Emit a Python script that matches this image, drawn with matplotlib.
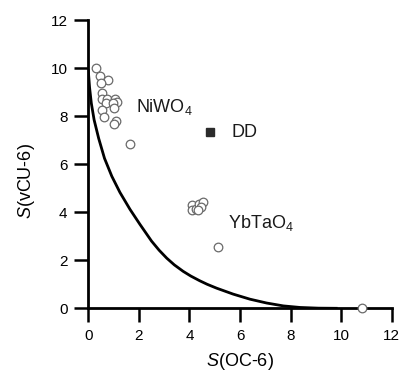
import matplotlib
matplotlib.use("Agg")
import matplotlib.pyplot as plt

plt.rcParams['font.family'] = ['Liberation Sans', 'DejaVu Sans']
plt.rcParams['mathtext.fontset'] = 'custom'
plt.rcParams['mathtext.rm'] = 'Liberation Sans'
plt.rcParams['mathtext.it'] = 'Liberation Sans:italic'

# minimal distortion path OC-6 <-> vCU-6
path_x = [0.0, 0.05, 0.12, 0.23, 0.41, 0.64, 0.93, 1.25, 1.65, 2.04, 2.50,
          2.80, 3.10, 3.40, 3.75, 4.05, 4.40, 4.70, 5.07, 5.73, 6.39, 7.05,
          7.71, 8.37, 9.10, 9.80]
path_y = [9.90, 9.20, 8.54, 7.85, 7.08, 6.25, 5.50, 4.83, 4.12, 3.50, 2.80,
          2.42, 2.09, 1.81, 1.54, 1.345, 1.15, 1.00, 0.84, 0.59, 0.38, 0.22,
          0.10, 0.035, 0.006, 0.0]

# NiWO4-type structures
niwo4_x = [0.29, 0.46, 0.79, 0.49, 0.53, 0.55, 0.75, 0.70, 1.06, 1.12, 0.99,
           1.02, 0.53, 0.62, 1.09, 1.03, 1.65]
niwo4_y = [10.0, 9.68, 9.51, 9.37, 8.98, 8.71, 8.73, 8.54, 8.71, 8.61, 8.57,
           8.33, 8.26, 7.98, 7.82, 7.68, 6.85]

# YbTaO4-type structures
ybtao4_x = [4.09, 4.09, 4.26, 4.39, 4.55, 4.44, 4.35, 5.14, 10.83]
ybtao4_y = [4.30, 4.10, 4.12, 4.35, 4.44, 4.21, 4.10, 2.57, 0.0]

dd_x, dd_y = [4.81], [7.33]

fig = plt.figure(figsize=(4.01, 3.71), dpi=100)
ax = fig.add_axes([0.2202, 0.169, 0.757, 0.7763])

ax.plot(path_x, path_y, color='black', lw=2.0, solid_joinstyle='round', zorder=2)
ax.plot(niwo4_x, niwo4_y, 'o', ms=6.2, mfc='white', mec='#6a6a6a', mew=0.9,
        clip_on=False, zorder=3)
ax.plot(ybtao4_x, ybtao4_y, 'o', ms=6.2, mfc='white', mec='#6a6a6a', mew=0.9,
        clip_on=False, zorder=3)
ax.plot(dd_x, dd_y, 's', ms=5.5, color='#2b2b2b', clip_on=False, zorder=3)

ax.text(1.89, 8.19, 'NiWO$_4$', fontsize=13, color='#1a1a1a')
ax.text(5.67, 7.12, 'DD', fontsize=13, color='#1a1a1a')
ax.text(5.52, 3.35, 'YbTaO$_4$', fontsize=13, color='#1a1a1a')

ax.set_xlim(0, 12)
ax.set_ylim(0, 12)
ax.set_xticks(range(0, 13, 2))
ax.set_yticks(range(0, 13, 2))
for s in ['top', 'right']:
    ax.spines[s].set_visible(False)
for s in ['left', 'bottom']:
    ax.spines[s].set_linewidth(2.0)
ax.tick_params(direction='out', length=10, width=1.8, labelsize=11, pad=5,
               colors='black')

ax.set_xlabel('$\\it{S}$(OC-6)', fontsize=13, labelpad=6)
ax.set_ylabel('$\\it{S}$(vCU-6)', fontsize=13)
ax.yaxis.set_label_coords(-0.17, 0.442)

fig.savefig('out.png', dpi=100)
